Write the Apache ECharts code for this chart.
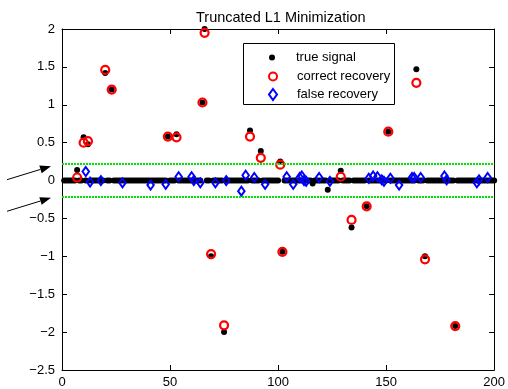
<!DOCTYPE html>
<html>
<head>
<meta charset="utf-8">
<script src="https://cdn.jsdelivr.net/npm/echarts@6/dist/echarts.min.js"></script>
<style>
html,body{margin:0;padding:0;background:#fff;}
#c{width:508px;height:389px;}
</style>
</head>
<body>
<div id="c"></div>
<script>
// ---- data ----
const N = 200;
const xTicks = [0, 50, 100, 150, 200];
const yTicks = [-2.5, -2, -1.5, -1, -0.5, 0, 0.5, 1, 1.5, 2];
const thresholds = [0.22, -0.21];

const trueIdx = [7,10,12,20,23,49,53,65,66,69,75,87,92,101,102,116,123,129,134,141,151,164,168,182];
const trueVal = [0.14,0.57,0.48,1.42,1.2,0.58,0.61,1.03,2.0,-1.0,-2.0,0.66,0.39,0.25,-0.94,-0.04,-0.12,0.13,-0.62,-0.34,0.645,1.47,-1.0,-1.92];

const correctIdx = [7,10,12,20,23,49,53,65,66,69,75,87,92,101,102,129,134,141,151,164,168,182];
const correctVal = [0.04,0.5,0.52,1.46,1.2,0.58,0.57,1.03,1.95,-0.97,-1.91,0.58,0.30,0.21,-0.94,0.05,-0.52,-0.34,0.645,1.29,-1.04,-1.92];

const falseIdx = [11,13,18,28,41,48,54,60,61,64,71,76,83,85,89,94,104,107,110,111,112,113,119,124,142,144,146,148,149,152,156,162,163,166,177,178,192,193,197];
const falseVal = [0.12,-0.02,0,-0.03,-0.06,-0.05,0.05,0.05,0,-0.03,-0.03,0,-0.14,0.07,0.04,-0.05,0.05,-0.05,0.04,0.06,0,-0.01,0.04,-0.01,0.03,0.06,0.05,0.01,-0.01,0.03,-0.06,0.04,0.04,0.04,0.06,0.01,-0.03,0.01,0.04];

const seriesNames = ['true signal', 'correct recovery', 'false recovery'];
const titleText = 'Truncated L1 Minimization';

// ---- build point lists ----
const trueMap = {};
trueIdx.forEach((k, i) => { trueMap[k] = trueVal[i]; });
const trueData = [];
for (let k = 1; k <= N; k++) trueData.push([k, trueMap[k] !== undefined ? trueMap[k] : 0]);
const correctData = correctIdx.map((k, i) => [k, correctVal[i]]);
const falseData = falseIdx.map((k, i) => [k, falseVal[i]]);

const FONT = '"Liberation Sans", Arial, Helvetica, sans-serif';
const fmt = v => String(v).replace('-', '\u2212');

const chart = echarts.init(document.getElementById('c'), null, {renderer: 'canvas'});

const axisCommon = {
  axisLine: {show: true, onZero: false, lineStyle: {color: '#000', width: 1}},
  axisTick: {show: true, inside: true, length: 5, lineStyle: {color: '#000', width: 1}},
  splitLine: {show: false}
};

const legendText = (padLeft) => ({fontFamily: FONT, fontSize: 13, color: '#000', padding: [0, 0, 0, padLeft]});

const option = {
  animation: false,
  backgroundColor: '#fff',
  title: {
    text: titleText,
    left: 191, top: 5,
    textStyle: {fontFamily: FONT, fontSize: 14.5, fontWeight: 'normal', color: '#000'}
  },
  grid: {left: 62, right: 12, top: 29, bottom: 17, containLabel: false},
  xAxis: [
    Object.assign({type: 'value', position: 'bottom', min: xTicks[0], max: xTicks[xTicks.length-1], interval: 50,
      axisLabel: {color: '#000', fontFamily: FONT, fontSize: 13, margin: 6, formatter: fmt}}, axisCommon),
    Object.assign({type: 'value', position: 'top', min: xTicks[0], max: xTicks[xTicks.length-1], interval: 50,
      axisLabel: {show: false}}, axisCommon)
  ],
  yAxis: [
    Object.assign({type: 'value', position: 'left', min: yTicks[0], max: yTicks[yTicks.length-1], interval: 0.5,
      axisLabel: {color: '#000', fontFamily: FONT, fontSize: 13, margin: 7, formatter: fmt}}, axisCommon),
    Object.assign({type: 'value', position: 'right', min: yTicks[0], max: yTicks[yTicks.length-1], interval: 0.5,
      axisLabel: {show: false}}, axisCommon)
  ],
  legend: [
    {data: [seriesNames[0]], left: 269, top: 51, padding: 0, itemWidth: 6, itemHeight: 6, selectedMode: false,
      textStyle: legendText(16)},
    {data: [seriesNames[1]], left: 268, top: 70, padding: 0, itemWidth: 8, itemHeight: 8, selectedMode: false,
      textStyle: legendText(15)},
    {data: [seriesNames[2]], left: 268, top: 88, padding: 0, itemWidth: 8, itemHeight: 11, selectedMode: false,
      textStyle: legendText(15)}
  ],
  series: [
    {
      name: seriesNames[0], type: 'scatter', data: trueData, symbol: 'circle', symbolSize: 6,
      itemStyle: {color: '#000', opacity: 1}, silent: true,
      markLine: {
        silent: true, symbol: ['none', 'none'], label: {show: false},
        lineStyle: {color: '#00e600', width: 2, type: [2, 1]},
        data: thresholds.map(t => ({yAxis: t}))
      }
    },
    {
      name: seriesNames[1], type: 'scatter', data: correctData, symbol: 'circle', symbolSize: 8,
      itemStyle: {color: 'rgba(255,0,0,0)', borderColor: '#ff0000', borderWidth: 2.2, opacity: 1}, silent: true
    },
    {
      name: seriesNames[2], type: 'scatter', data: falseData, symbol: 'diamond', symbolSize: [6.5, 9],
      itemStyle: {color: 'rgba(0,0,255,0)', borderColor: '#0000ff', borderWidth: 2, opacity: 1}, silent: true
    }
  ]
};
chart.setOption(option);

// legend frame + arrows pointing at the threshold lines
const p0 = chart.convertToPixel({gridIndex: 0}, [0, thresholds[0]]);
const p1 = chart.convertToPixel({gridIndex: 0}, [0, thresholds[1]]);
function arrow(endX, endY) {
  const sx = endX - 44, sy = endY + 13.5;
  const dx = endX - sx, dy = endY - sy, L = Math.sqrt(dx*dx + dy*dy);
  const ux = dx / L, uy = dy / L, hl = 11, hw = 4;
  const bx = endX - ux*hl, by = endY - uy*hl;
  return [
    {type: 'line', shape: {x1: sx, y1: sy, x2: bx, y2: by}, style: {stroke: '#000', lineWidth: 1}, silent: true},
    {type: 'polygon', shape: {points: [[endX, endY], [bx - uy*hw, by + ux*hw], [bx + uy*hw, by - ux*hw]]},
      style: {fill: '#000'}, silent: true}
  ];
}
const gfx = [
  {type: 'rect', shape: {x: 243.5, y: 43.5, width: 151, height: 61}, style: {fill: '#fff', stroke: '#000', lineWidth: 1}, z: 3, silent: true}
].concat(arrow(p0[0] - 11, p0[1] + 2.3)).concat(arrow(p1[0] - 11, p1[1] + 1.3));
chart.setOption({graphic: gfx});
</script>
</body>
</html>
